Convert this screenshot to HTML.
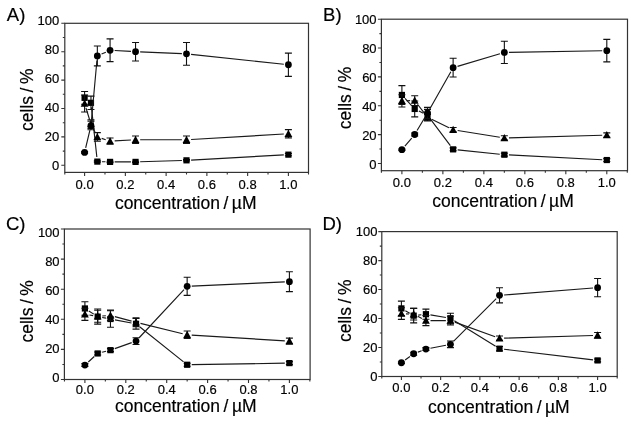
<!DOCTYPE html>
<html><head><meta charset="utf-8"><style>
html,body{margin:0;padding:0;background:#fff;}
svg{display:block;filter:blur(0.35px);}
text{font-family:"Liberation Sans", sans-serif;fill:#000;stroke:#000;stroke-width:0.18px;}
</style></head><body>
<svg width="635" height="424" viewBox="0 0 635 424">
<rect width="635" height="424" fill="#fff"/>
<text x="6.8" y="20.6" font-size="18.5">A)</text>
<rect x="64.8" y="23.3" width="243.7" height="149.1" fill="none" stroke="#333" stroke-width="1.2"/>
<path d="M64.8 165.3h-3.5 M64.8 151.1h-2.0 M64.8 136.9h-3.5 M64.8 122.7h-2.0 M64.8 108.5h-3.5 M64.8 94.3h-2.0 M64.8 80.1h-3.5 M64.8 65.9h-2.0 M64.8 51.7h-3.5 M64.8 37.5h-2.0 M64.8 23.3h-3.5 M64.8 172.4v2.0 M84.6 172.4v3.5 M104.98 172.4v2.0 M125.36 172.4v3.5 M145.74 172.4v2.0 M166.12 172.4v3.5 M186.5 172.4v2.0 M206.88 172.4v3.5 M227.26 172.4v2.0 M247.64 172.4v3.5 M268.02 172.4v2.0 M288.4 172.4v3.5 M308.5 172.4v2.0" stroke="#333" stroke-width="1.1" fill="none"/>
<text x="59.3" y="169.95" font-size="13" text-anchor="end">0</text>
<text x="59.3" y="141.05" font-size="13" text-anchor="end">20</text>
<text x="59.3" y="112.15" font-size="13" text-anchor="end">40</text>
<text x="59.3" y="83.25" font-size="13" text-anchor="end">60</text>
<text x="59.3" y="54.35" font-size="13" text-anchor="end">80</text>
<text x="59.3" y="25.45" font-size="13" text-anchor="end">100</text>
<text x="84.6" y="188.5" font-size="13" text-anchor="middle">0.0</text>
<text x="125.36" y="188.5" font-size="13" text-anchor="middle">0.2</text>
<text x="166.12" y="188.5" font-size="13" text-anchor="middle">0.4</text>
<text x="206.88" y="188.5" font-size="13" text-anchor="middle">0.6</text>
<text x="247.64" y="188.5" font-size="13" text-anchor="middle">0.8</text>
<text x="288.4" y="188.5" font-size="13" text-anchor="middle">1.0</text>
<text x="114.9" y="209.2" font-size="17.5">concentration / µM</text>
<text transform="translate(33.2 130.9) rotate(-90)" font-size="17.5">cells / %</text>
<path d="M91.46 107.39L96.84 157.03 M101.94 161.71L105.48 161.79 M114.67 161.89L130.95 161.89 M140.15 161.75L181.9 160.47 M191.09 160.07L283.81 154.91" stroke="#1a1a1a" stroke-width="1.15" fill="none"/>
<path d="M84.6 91.46V104.24 M81.1 91.46h7 M81.1 104.24h7 M90.97 96.15V109.49 M87.47 96.15h7 M87.47 109.49h7 M97.34 160.9V162.32 M93.84 160.9h7 M93.84 162.32h7 M110.07 161.18V162.6 M106.57 161.18h7 M106.57 162.6h7 M135.55 161.18V162.6 M132.05 161.18h7 M132.05 162.6h7 M186.5 159.62V161.04 M183 159.62h7 M183 161.04h7 M288.4 153.51V155.79 M284.9 153.51h7 M284.9 155.79h7" stroke="#111" stroke-width="1.1" fill="none"/>
<rect x="81.5" y="94.75" width="6.2" height="6.2" fill="#000"/>
<rect x="87.87" y="99.72" width="6.2" height="6.2" fill="#000"/>
<rect x="94.24" y="158.51" width="6.2" height="6.2" fill="#000"/>
<rect x="106.97" y="158.79" width="6.2" height="6.2" fill="#000"/>
<rect x="132.45" y="158.79" width="6.2" height="6.2" fill="#000"/>
<rect x="183.4" y="157.23" width="6.2" height="6.2" fill="#000"/>
<rect x="285.3" y="151.55" width="6.2" height="6.2" fill="#000"/>
<path d="M85.96 107.92L89.61 119.73 M93.02 128.24L95.29 132.78 M101.7 138.36L105.71 139.7 M114.67 140.9L130.96 140 M140.15 139.74L181.9 139.74 M191.09 139.47L283.81 134.04" stroke="#1a1a1a" stroke-width="1.15" fill="none"/>
<path d="M84.6 95.01V112.05 M81.1 95.01h7 M81.1 112.05h7 M90.97 119.86V128.38 M87.47 119.86h7 M87.47 128.38h7 M97.34 132.64V141.16 M93.84 132.64h7 M93.84 141.16h7 M110.07 138.04V144.28 M106.57 138.04h7 M106.57 144.28h7 M135.55 136.05V143.43 M132.05 136.05h7 M132.05 143.43h7 M186.5 136.05V143.43 M183 136.05h7 M183 143.43h7 M288.4 129.66V137.89 M284.9 129.66h7 M284.9 137.89h7" stroke="#111" stroke-width="1.1" fill="none"/>
<path d="M84.6 99.53L88.5 106.73H80.7Z" fill="#000"/>
<path d="M90.97 120.12L94.87 127.32H87.07Z" fill="#000"/>
<path d="M97.34 132.9L101.24 140.1H93.44Z" fill="#000"/>
<path d="M110.07 137.16L113.97 144.36H106.17Z" fill="#000"/>
<path d="M135.55 135.74L139.45 142.94H131.65Z" fill="#000"/>
<path d="M186.5 135.74L190.4 142.94H182.6Z" fill="#000"/>
<path d="M288.4 129.78L292.3 136.98H284.5Z" fill="#000"/>
<path d="M85.66 147.9L89.91 130.02 M91.39 120.96L96.92 60.54 M101.54 54.09L105.87 52.15 M114.67 50.54L130.96 51.44 M140.15 51.89L181.9 53.64 M191.07 54.32L283.83 64.27" stroke="#1a1a1a" stroke-width="1.15" fill="none"/>
<path d="M84.6 151.67V153.09 M81.1 151.67h7 M81.1 153.09h7 M90.97 121.28V129.8 M87.47 121.28h7 M87.47 129.8h7 M97.34 46.02V65.9 M93.84 46.02h7 M93.84 65.9h7 M110.07 38.92V61.64 M106.57 38.92h7 M106.57 61.64h7 M135.55 42.47V60.93 M132.05 42.47h7 M132.05 60.93h7 M186.5 42.47V65.19 M183 42.47h7 M183 65.19h7 M288.4 53.12V76.41 M284.9 53.12h7 M284.9 76.41h7" stroke="#111" stroke-width="1.1" fill="none"/>
<circle cx="84.6" cy="152.38" r="3.4" fill="#000"/>
<circle cx="90.97" cy="125.54" r="3.4" fill="#000"/>
<circle cx="97.34" cy="55.96" r="3.4" fill="#000"/>
<circle cx="110.07" cy="50.28" r="3.4" fill="#000"/>
<circle cx="135.55" cy="51.7" r="3.4" fill="#000"/>
<circle cx="186.5" cy="53.83" r="3.4" fill="#000"/>
<circle cx="288.4" cy="64.76" r="3.4" fill="#000"/>
<text x="323.1" y="20.7" font-size="18.5">B)</text>
<rect x="381.4" y="19.2" width="246.1" height="151.5" fill="none" stroke="#333" stroke-width="1.2"/>
<path d="M381.4 163.5h-3.5 M381.4 149.07h-2.0 M381.4 134.64h-3.5 M381.4 120.21h-2.0 M381.4 105.78h-3.5 M381.4 91.35h-2.0 M381.4 76.92h-3.5 M381.4 62.49h-2.0 M381.4 48.06h-3.5 M381.4 33.63h-2.0 M381.4 19.2h-3.5 M381.41 170.7v2.0 M401.9 170.7v3.5 M422.39 170.7v2.0 M442.88 170.7v3.5 M463.37 170.7v2.0 M483.86 170.7v3.5 M504.35 170.7v2.0 M524.84 170.7v3.5 M545.33 170.7v2.0 M565.82 170.7v3.5 M586.31 170.7v2.0 M606.8 170.7v3.5 M627.29 170.7v2.0" stroke="#333" stroke-width="1.1" fill="none"/>
<text x="376.6" y="169.15" font-size="13" text-anchor="end">0</text>
<text x="376.6" y="140.09" font-size="13" text-anchor="end">20</text>
<text x="376.6" y="111.03" font-size="13" text-anchor="end">40</text>
<text x="376.6" y="81.97" font-size="13" text-anchor="end">60</text>
<text x="376.6" y="52.91" font-size="13" text-anchor="end">80</text>
<text x="376.6" y="23.85" font-size="13" text-anchor="end">100</text>
<text x="401.9" y="186.5" font-size="13" text-anchor="middle">0.0</text>
<text x="442.88" y="186.5" font-size="13" text-anchor="middle">0.2</text>
<text x="483.86" y="186.5" font-size="13" text-anchor="middle">0.4</text>
<text x="524.84" y="186.5" font-size="13" text-anchor="middle">0.6</text>
<text x="565.82" y="186.5" font-size="13" text-anchor="middle">0.8</text>
<text x="606.8" y="186.5" font-size="13" text-anchor="middle">1.0</text>
<text x="432.2" y="207.4" font-size="17.5">concentration / µM</text>
<text transform="translate(350.8 129.2) rotate(-90)" font-size="17.5">cells / %</text>
<path d="M405.01 98.35L411.6 105.56 M418.85 110.96L423.37 113.15 M430.27 118.84L450.37 145.68 M457.7 149.84L499.77 154.22 M508.94 154.94L602.21 159.8" stroke="#1a1a1a" stroke-width="1.15" fill="none"/>
<path d="M401.9 85.58V104.34 M398.4 85.58h7 M398.4 104.34h7 M414.71 101.02V116.89 M411.21 101.02h7 M411.21 116.89h7 M427.51 109.39V120.93 M424.01 109.39h7 M424.01 120.93h7 M453.12 147.92V150.8 M449.62 147.92h7 M449.62 150.8h7 M504.35 153.25V156.14 M500.85 153.25h7 M500.85 156.14h7 M606.8 158.59V161.48 M603.3 158.59h7 M603.3 161.48h7" stroke="#111" stroke-width="1.1" fill="none"/>
<rect x="398.8" y="91.86" width="6.2" height="6.2" fill="#000"/>
<rect x="411.61" y="105.85" width="6.2" height="6.2" fill="#000"/>
<rect x="424.41" y="112.06" width="6.2" height="6.2" fill="#000"/>
<rect x="450.02" y="146.26" width="6.2" height="6.2" fill="#000"/>
<rect x="501.25" y="151.6" width="6.2" height="6.2" fill="#000"/>
<rect x="603.7" y="156.94" width="6.2" height="6.2" fill="#000"/>
<path d="M406.5 100.77L410.11 100.69 M417.5 104.24L424.72 113.67 M431.65 119.33L448.99 127.73 M457.67 130.46L499.81 137.23 M508.95 137.83L602.2 135.2" stroke="#1a1a1a" stroke-width="1.15" fill="none"/>
<path d="M401.9 94.81V106.93 M398.4 94.81h7 M398.4 106.93h7 M414.71 95.68V105.49 M411.21 95.68h7 M411.21 105.49h7 M427.51 114.44V120.21 M424.01 114.44h7 M424.01 120.21h7 M453.12 127.57V131.9 M449.62 127.57h7 M449.62 131.9h7 M504.35 135.79V140.12 M500.85 135.79h7 M500.85 140.12h7 M606.8 132.91V137.24 M603.3 132.91h7 M603.3 137.24h7" stroke="#111" stroke-width="1.1" fill="none"/>
<path d="M401.9 96.87L405.8 104.07H398Z" fill="#000"/>
<path d="M414.71 96.59L418.61 103.79H410.81Z" fill="#000"/>
<path d="M427.51 113.32L431.41 120.52H423.61Z" fill="#000"/>
<path d="M453.12 125.73L457.02 132.93H449.23Z" fill="#000"/>
<path d="M504.35 133.96L508.25 141.16H500.45Z" fill="#000"/>
<path d="M606.8 131.07L610.7 138.27H602.9Z" fill="#000"/>
<path d="M404.87 146.13L411.74 138.01 M417.06 130.54L425.16 116.95 M429.78 108.99L450.86 71.69 M457.53 66.37L499.94 53.71 M508.95 52.31L602.2 50.74" stroke="#1a1a1a" stroke-width="1.15" fill="none"/>
<path d="M401.9 148.93V150.37 M398.4 148.93h7 M398.4 150.37h7 M414.71 133.05V135.94 M411.21 133.05h7 M411.21 135.94h7 M427.51 107.37V118.62 M424.01 107.37h7 M424.01 118.62h7 M453.12 58.31V77.06 M449.62 58.31h7 M449.62 77.06h7 M504.35 41.28V63.5 M500.85 41.28h7 M500.85 63.5h7 M606.8 39.4V61.91 M603.3 39.4h7 M603.3 61.91h7" stroke="#111" stroke-width="1.1" fill="none"/>
<circle cx="401.9" cy="149.65" r="3.4" fill="#000"/>
<circle cx="414.71" cy="134.5" r="3.4" fill="#000"/>
<circle cx="427.51" cy="113" r="3.4" fill="#000"/>
<circle cx="453.12" cy="67.68" r="3.4" fill="#000"/>
<circle cx="504.35" cy="52.39" r="3.4" fill="#000"/>
<circle cx="606.8" cy="50.66" r="3.4" fill="#000"/>
<text x="6" y="230.1" font-size="18.5">C)</text>
<rect x="64.4" y="229" width="245.7" height="150.5" fill="none" stroke="#333" stroke-width="1.2"/>
<path d="M64.4 379.5h-3.5 M64.4 364.45h-2.0 M64.4 349.4h-3.5 M64.4 334.35h-2.0 M64.4 319.3h-3.5 M64.4 304.25h-2.0 M64.4 289.2h-3.5 M64.4 274.15h-2.0 M64.4 259.1h-3.5 M64.4 244.05h-2.0 M64.4 229h-3.5 M64.45 379.5v2.0 M84.9 379.5v3.5 M105.35 379.5v2.0 M125.8 379.5v3.5 M146.25 379.5v2.0 M166.7 379.5v3.5 M187.15 379.5v2.0 M207.6 379.5v3.5 M228.05 379.5v2.0 M248.5 379.5v3.5 M268.95 379.5v2.0 M289.4 379.5v3.5 M309.85 379.5v2.0" stroke="#333" stroke-width="1.1" fill="none"/>
<text x="59.6" y="381.95" font-size="13" text-anchor="end">0</text>
<text x="59.6" y="353.05" font-size="13" text-anchor="end">20</text>
<text x="59.6" y="324.15" font-size="13" text-anchor="end">40</text>
<text x="59.6" y="295.25" font-size="13" text-anchor="end">60</text>
<text x="59.6" y="266.35" font-size="13" text-anchor="end">80</text>
<text x="59.6" y="237.45" font-size="13" text-anchor="end">100</text>
<text x="84.9" y="394.4" font-size="13" text-anchor="middle">0.0</text>
<text x="125.8" y="394.4" font-size="13" text-anchor="middle">0.2</text>
<text x="166.7" y="394.4" font-size="13" text-anchor="middle">0.4</text>
<text x="207.6" y="394.4" font-size="13" text-anchor="middle">0.6</text>
<text x="248.5" y="394.4" font-size="13" text-anchor="middle">0.8</text>
<text x="289.4" y="394.4" font-size="13" text-anchor="middle">1.0</text>
<text x="115" y="412.4" font-size="17.5">concentration / µM</text>
<text transform="translate(33.2 342.6) rotate(-90)" font-size="17.5">cells / %</text>
<path d="M88.78 310.93L93.8 314.12 M102.2 317.44L105.94 318.15 M114.98 319.85L131.5 322.96 M139.62 326.69L183.56 361.88 M191.75 364.68L284.8 363.17" stroke="#1a1a1a" stroke-width="1.15" fill="none"/>
<path d="M84.9 301.69V315.24 M81.4 301.69h7 M81.4 315.24h7 M97.68 309.07V324.12 M94.18 309.07h7 M94.18 324.12h7 M110.46 310.72V327.28 M106.96 310.72h7 M106.96 327.28h7 M136.03 318.55V329.08 M132.53 318.55h7 M132.53 329.08h7 M187.15 363.25V366.26 M183.65 363.25h7 M183.65 366.26h7 M289.4 361.59V364.6 M285.9 361.59h7 M285.9 364.6h7" stroke="#111" stroke-width="1.1" fill="none"/>
<rect x="81.8" y="305.36" width="6.2" height="6.2" fill="#000"/>
<rect x="94.58" y="313.49" width="6.2" height="6.2" fill="#000"/>
<rect x="107.36" y="315.9" width="6.2" height="6.2" fill="#000"/>
<rect x="132.93" y="320.71" width="6.2" height="6.2" fill="#000"/>
<rect x="184.05" y="361.65" width="6.2" height="6.2" fill="#000"/>
<rect x="286.3" y="360" width="6.2" height="6.2" fill="#000"/>
<path d="M89.45 315.03L93.13 315.59 M102.27 315.97L105.87 315.71 M114.9 316.59L131.58 321.11 M140.49 323.4L182.68 333.71 M191.74 335.09L284.81 340.84" stroke="#1a1a1a" stroke-width="1.15" fill="none"/>
<path d="M84.9 308.31V320.35 M81.4 308.31h7 M81.4 320.35h7 M97.68 310.27V322.31 M94.18 310.27h7 M94.18 322.31h7 M110.46 310.12V320.65 M106.96 310.12h7 M106.96 320.65h7 M136.03 317.8V326.82 M132.53 317.8h7 M132.53 326.82h7 M187.15 331.04V338.56 M183.65 331.04h7 M183.65 338.56h7 M289.4 338.11V344.13 M285.9 338.11h7 M285.9 344.13h7" stroke="#111" stroke-width="1.1" fill="none"/>
<path d="M84.9 310.33L88.8 317.53H81Z" fill="#000"/>
<path d="M97.68 312.29L101.58 319.49H93.78Z" fill="#000"/>
<path d="M110.46 311.39L114.36 318.59H106.56Z" fill="#000"/>
<path d="M136.03 318.31L139.93 325.51H132.12Z" fill="#000"/>
<path d="M187.15 330.8L191.05 338H183.25Z" fill="#000"/>
<path d="M289.4 337.12L293.3 344.32H285.5Z" fill="#000"/>
<path d="M88.31 361.96L94.27 356.55 M102.13 352.31L106.01 351.31 M114.8 348.62L131.69 342.65 M139.16 337.76L184.01 289.7 M191.75 286.13L284.8 281.88" stroke="#1a1a1a" stroke-width="1.15" fill="none"/>
<path d="M84.9 363.55V366.56 M81.4 363.55h7 M81.4 366.56h7 M97.68 351.96V354.97 M94.18 351.96h7 M94.18 354.97h7 M110.46 348.65V351.66 M106.96 348.65h7 M106.96 351.66h7 M136.03 337.81V344.43 M132.53 337.81h7 M132.53 344.43h7 M187.15 277.31V295.37 M183.65 277.31h7 M183.65 295.37h7 M289.4 271.74V291.61 M285.9 271.74h7 M285.9 291.61h7" stroke="#111" stroke-width="1.1" fill="none"/>
<circle cx="84.9" cy="365.05" r="3.4" fill="#000"/>
<rect x="94.58" y="350.36" width="6.2" height="6.2" fill="#000"/>
<rect x="107.36" y="347.05" width="6.2" height="6.2" fill="#000"/>
<circle cx="136.03" cy="341.12" r="3.4" fill="#000"/>
<circle cx="187.15" cy="286.34" r="3.4" fill="#000"/>
<circle cx="289.4" cy="281.68" r="3.4" fill="#000"/>
<text x="322.4" y="230.2" font-size="18.5">D)</text>
<rect x="381.8" y="231.6" width="235.4" height="144.9" fill="none" stroke="#333" stroke-width="1.2"/>
<path d="M381.8 376.5h-3.5 M381.8 362.01h-2.0 M381.8 347.52h-3.5 M381.8 333.03h-2.0 M381.8 318.54h-3.5 M381.8 304.05h-2.0 M381.8 289.56h-3.5 M381.8 275.07h-2.0 M381.8 260.58h-3.5 M381.8 246.09h-2.0 M381.8 231.6h-3.5 M381.8 376.5v2.0 M401.4 376.5v3.5 M421.02 376.5v2.0 M440.64 376.5v3.5 M460.26 376.5v2.0 M479.88 376.5v3.5 M499.5 376.5v2.0 M519.12 376.5v3.5 M538.74 376.5v2.0 M558.36 376.5v3.5 M577.98 376.5v2.0 M597.6 376.5v3.5 M617.2 376.5v2.0" stroke="#333" stroke-width="1.1" fill="none"/>
<text x="377.5" y="380.85" font-size="13" text-anchor="end">0</text>
<text x="377.5" y="351.87" font-size="13" text-anchor="end">20</text>
<text x="377.5" y="322.89" font-size="13" text-anchor="end">40</text>
<text x="377.5" y="293.91" font-size="13" text-anchor="end">60</text>
<text x="377.5" y="264.93" font-size="13" text-anchor="end">80</text>
<text x="377.5" y="235.95" font-size="13" text-anchor="end">100</text>
<text x="401.4" y="391.9" font-size="13" text-anchor="middle">0.0</text>
<text x="440.64" y="391.9" font-size="13" text-anchor="middle">0.2</text>
<text x="479.88" y="391.9" font-size="13" text-anchor="middle">0.4</text>
<text x="519.12" y="391.9" font-size="13" text-anchor="middle">0.6</text>
<text x="558.36" y="391.9" font-size="13" text-anchor="middle">0.8</text>
<text x="597.6" y="391.9" font-size="13" text-anchor="middle">1.0</text>
<text x="428.1" y="412.5" font-size="17.5">concentration / µM</text>
<text transform="translate(350.8 342) rotate(-90)" font-size="17.5">cells / %</text>
<path d="M405.36 310.74L409.7 313.3 M418.23 315.1L421.36 314.73 M430.46 314.94L445.91 317.5 M454.36 320.68L495.59 346.25 M504.07 349.23L593.03 359.87" stroke="#1a1a1a" stroke-width="1.15" fill="none"/>
<path d="M401.4 301.15V315.64 M397.9 301.15h7 M397.9 315.64h7 M413.66 308.4V322.89 M410.16 308.4h7 M410.16 322.89h7 M425.92 309.12V319.26 M422.42 309.12h7 M422.42 319.26h7 M450.45 313.18V323.32 M446.95 313.18h7 M446.95 323.32h7 M499.5 346.51V350.85 M496 346.51h7 M496 350.85h7 M597.6 358.97V361.87 M594.1 358.97h7 M594.1 361.87h7" stroke="#111" stroke-width="1.1" fill="none"/>
<rect x="398.3" y="305.3" width="6.2" height="6.2" fill="#000"/>
<rect x="410.56" y="312.54" width="6.2" height="6.2" fill="#000"/>
<rect x="422.82" y="311.09" width="6.2" height="6.2" fill="#000"/>
<rect x="447.35" y="315.15" width="6.2" height="6.2" fill="#000"/>
<rect x="496.4" y="345.58" width="6.2" height="6.2" fill="#000"/>
<rect x="594.5" y="357.32" width="6.2" height="6.2" fill="#000"/>
<path d="M405.99 313.83L409.07 313.98 M417.74 316.31L421.84 318.45 M430.52 320.57L445.85 320.57 M454.78 322.13L495.17 336.69 M504.1 338.11L593 335.48" stroke="#1a1a1a" stroke-width="1.15" fill="none"/>
<path d="M401.4 307.82V319.41 M397.9 307.82h7 M397.9 319.41h7 M413.66 308.4V319.99 M410.16 308.4h7 M410.16 319.99h7 M425.92 315.5V325.64 M422.42 315.5h7 M422.42 325.64h7 M450.45 316.22V324.92 M446.95 316.22h7 M446.95 324.92h7 M499.5 336.07V340.42 M496 336.07h7 M496 340.42h7 M597.6 332.45V338.25 M594.1 332.45h7 M594.1 338.25h7" stroke="#111" stroke-width="1.1" fill="none"/>
<path d="M401.4 309.61L405.3 316.81H397.5Z" fill="#000"/>
<path d="M413.66 310.19L417.56 317.39H409.76Z" fill="#000"/>
<path d="M425.92 316.57L429.82 323.77H422.02Z" fill="#000"/>
<path d="M450.45 316.57L454.35 323.77H446.55Z" fill="#000"/>
<path d="M499.5 334.25L503.4 341.45H495.6Z" fill="#000"/>
<path d="M597.6 331.35L601.5 338.55H593.7Z" fill="#000"/>
<path d="M405.11 360.02L409.95 356.47 M417.97 352.12L421.62 350.74 M430.44 348.23L445.94 345.21 M453.71 341.08L496.24 298.61 M504.09 295L593.01 288.04" stroke="#1a1a1a" stroke-width="1.15" fill="none"/>
<path d="M401.4 362.01V363.46 M397.9 362.01h7 M397.9 363.46h7 M413.66 352.3V355.2 M410.16 352.3h7 M410.16 355.2h7 M425.92 347.66V350.56 M422.42 347.66h7 M422.42 350.56h7 M450.45 341V347.66 M446.95 341h7 M446.95 347.66h7 M499.5 287.82V302.89 M496 287.82h7 M496 302.89h7 M597.6 278.55V296.8 M594.1 278.55h7 M594.1 296.8h7" stroke="#111" stroke-width="1.1" fill="none"/>
<circle cx="401.4" cy="362.73" r="3.4" fill="#000"/>
<circle cx="413.66" cy="353.75" r="3.4" fill="#000"/>
<circle cx="425.92" cy="349.11" r="3.4" fill="#000"/>
<circle cx="450.45" cy="344.33" r="3.4" fill="#000"/>
<circle cx="499.5" cy="295.36" r="3.4" fill="#000"/>
<circle cx="597.6" cy="287.68" r="3.4" fill="#000"/>
</svg>
</body></html>
